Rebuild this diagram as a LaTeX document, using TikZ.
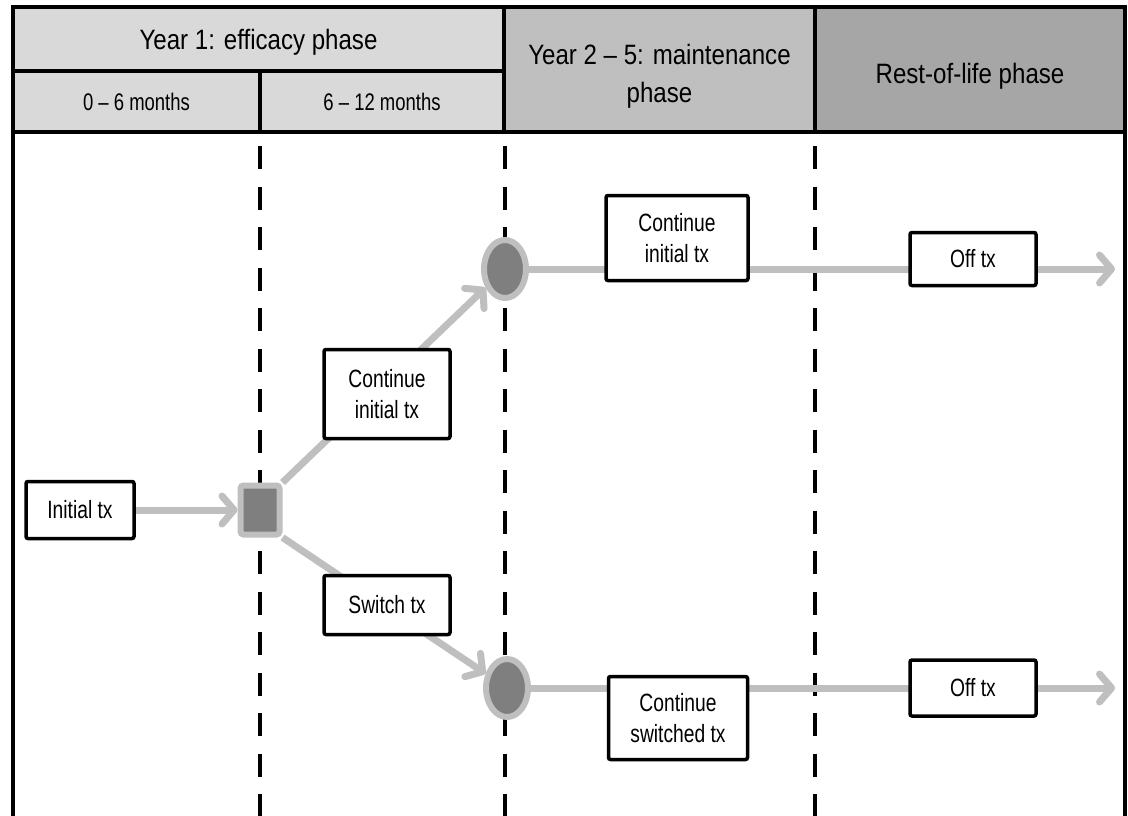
\documentclass[tikz,border=0pt]{standalone}
\usepackage{fontspec}
\setmainfont{Liberation Sans}[FakeStretch=0.77]
\newfontfamily\phasefont{Liberation Sans}[FakeStretch=0.86, Ligatures=TeX]
\usetikzlibrary{arrows.meta,positioning,shapes.geometric}
\definecolor{grisclair}{HTML}{D9D9D9}
\definecolor{grismoyen}{HTML}{BFBFBF}
\definecolor{grisfonce}{HTML}{A6A6A6}
\definecolor{grisnoeud}{HTML}{7F7F7F}
\newcommand{\hausse}[1]{\rule{0pt}{#1}}
\pgfdeclarelayer{back}
\pgfsetlayers{back,main}

\begin{document}
\begin{tikzpicture}[x=1pt, y=-1pt,
            phase/.style={rectangle, draw=black, line width=4pt, inner sep=0pt, align=center,
                          font=\phasefont\fontsize{28}{38}\selectfont},
            mois/.style={phase, fill=grisclair, font=\fontsize{24}{30}\selectfont},
            txbox/.style={rectangle, draw=black, fill=white, line width=3.5pt, rounded corners=2pt,
                          align=center, inner sep=0pt, font=\fontsize{25}{31}\selectfont},
            decision/.style={rectangle, draw=grismoyen, fill=grisnoeud, line width=6pt,
                             rounded corners=3pt, minimum width=39pt, minimum height=49pt},
            chance/.style={ellipse, draw=grismoyen, fill=grisnoeud, line width=6pt, inner sep=0pt,
                           minimum width=42pt, minimum height=58pt},
            flow/.style={grismoyen, line width=7pt, -{Straight Barb[length=12pt,width=28pt,round]}},
            limite/.style={black, line width=4pt, dash pattern=on 23pt off 17.5pt}]
            \useasboundingbox (0,0) rectangle (1128,816);

            % en-tete des phases
            \node[phase, fill=grisclair, minimum width=491pt, minimum height=64pt] (an1) at (258.5,39) {\hausse{26pt}Year 1: efficacy phase};
            \node[mois, minimum width=247pt, minimum height=61pt] (m06)  at (136.5,101.5) {0 -- 6 months};
            \node[mois, minimum width=244pt, minimum height=61pt] (m612) at (382,101.5)   {6 -- 12 months};
            \node[phase, fill=grismoyen, minimum width=311pt, minimum height=125pt] (an25)  at (659.5,69.5) {\hausse{34pt}Year 2 -- 5: maintenance\\phase};
            \node[phase, fill=grisfonce, minimum width=310pt, minimum height=125pt] (reste) at (970,69.5)   {\hausse{34pt}Rest-of-life phase};
            \draw[line width=4pt] (13,130) -- (13,816) (1125,130) -- (1125,816);

            % noeuds
            \node[txbox, minimum width=108pt, minimum height=57pt]  (init)  at (80,510)  {Initial tx};
            \node[decision] (sq) at (260,510) {};
            \node[txbox, minimum width=126pt, minimum height=89pt]  (cont1) at (387,394) {Continue\\initial tx};
            \node[txbox, minimum width=126pt, minimum height=59pt]  (sw)    at (387,605) {Switch tx};
            \node[chance] (c1) at (505,269) {};
            \node[chance] (c2) at (507,688) {};
            \node[txbox, minimum width=142pt, minimum height=85pt]  (cont2) at (677,238) {Continue\\initial tx};
            \node[txbox, minimum width=139pt, minimum height=83pt]  (cont3) at (678,718) {Continue\\switched tx};
            \node[txbox, minimum width=126pt, minimum height=53pt]  (off1)  at (973,259) {Off tx};
            \node[txbox, minimum width=126pt, minimum height=56pt]  (off2)  at (973,688) {Off tx};
            \coordinate (e1) at (1115,269);
            \coordinate (e2) at (1115,688);

            \begin{pgfonlayer}{back}
            \draw[limite] (260,146) -- (260,816)
                          (505,146) -- (505,816)
                          (815,146) -- (815,816);
            \path[flow] (init) edge (sq)
                        (sq.north east) edge (c1)
                        (sq.south east) edge (c2)
                        (c1) edge (e1)
                        (c2) edge (e2);
            \end{pgfonlayer}
        \end{tikzpicture}
\end{document}
